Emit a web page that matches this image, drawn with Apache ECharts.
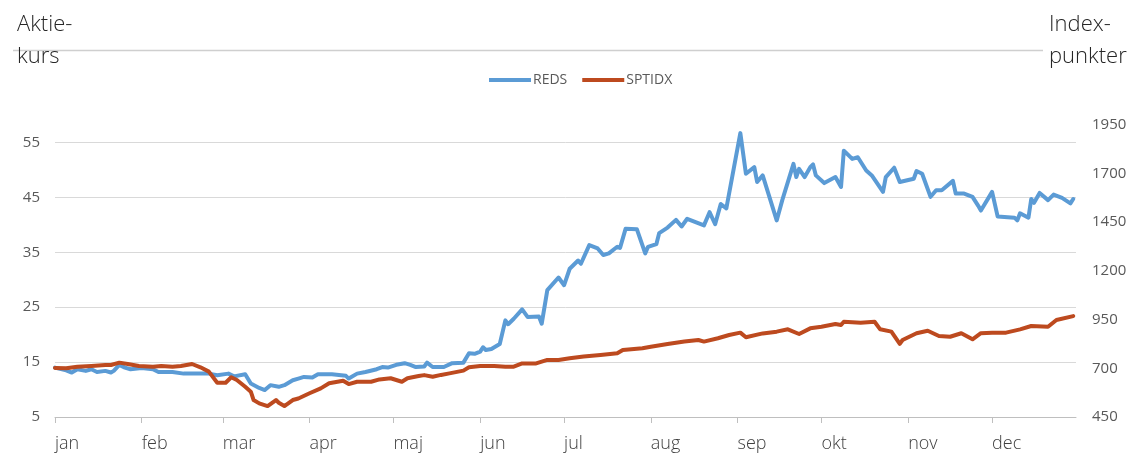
<!DOCTYPE html>
<html>
<head>
<meta charset="utf-8">
<script src="https://cdn.jsdelivr.net/npm/echarts@6/dist/echarts.min.js"></script>
<style>
html,body{margin:0;padding:0;background:#fff;}
#c{width:1135px;height:456px;}
</style>
</head>
<body>
<div id="c"></div>
<script>
// Month names and month-start day numbers (day 0 = 1 jan, leap year)
const monthNames = ['jan','feb','mar','apr','maj','jun','jul','aug','sep','okt','nov','dec'];
const monthStarts = [0,31,60,91,121,152,182,213,244,274,305,335];

// REDS share price (left axis): day number and value
const redsDays = [0,4,6,8,11,13,15,18,20,21,23,25,27,31,35,37,42,46,51,55,58,62,64,68,70,73,75,77,80,82,85,87,89,92,94,99,104,105,108,111,115,117,119,122,125,127,129,132,133,135,139,142,146,148,150,152,153,154,156,159,161,162,164,167,169,173,174,176,180,182,184,187,188,191,194,196,198,201,202,204,208,211,212,215,216,219,222,224,226,229,232,234,236,238,240,245,247,250,251,253,258,260,264,265,266,268,270,271,272,275,279,281,282,285,287,290,292,296,297,300,302,307,308,310,313,315,317,321,322,325,328,330,331,335,337,343,344,345,348,349,350,352,355,357,360,363,364];
const redsVals = [14.0,13.5,13.1,13.7,13.4,13.7,13.2,13.4,13.1,13.4,14.5,14.0,13.7,13.9,13.7,13.2,13.2,12.9,12.9,12.9,12.6,12.9,12.4,12.8,11.1,10.3,9.9,10.8,10.5,10.8,11.7,12.0,12.3,12.2,12.8,12.8,12.5,12.0,12.9,13.2,13.7,14.1,14.0,14.5,14.8,14.5,14.1,14.2,14.9,14.1,14.1,14.8,14.9,16.6,16.5,16.9,17.7,17.2,17.4,18.3,22.6,21.9,22.9,24.6,23.2,23.3,22.0,28.1,30.4,29.0,32.0,33.5,32.9,36.3,35.7,34.5,34.8,36.0,35.8,39.3,39.2,34.8,36.0,36.5,38.5,39.5,40.9,39.7,41.1,40.5,39.9,42.3,40.1,43.8,43.0,56.7,49.3,50.5,47.8,49.0,40.8,44.5,51.1,48.7,50.2,48.7,50.5,51.0,49.0,47.6,48.7,46.9,53.5,52.0,52.3,49.9,49.0,46.0,48.7,50.4,47.8,48.4,49.8,49.3,45.1,46.3,46.3,48.0,45.7,45.7,45.1,43.5,42.6,46.0,41.5,41.3,40.8,42.1,41.3,44.7,44.0,45.8,44.5,45.5,44.9,43.9,44.7];

// SPTIDX index points (right axis): day number and value
const sptDays = [0,4,8,13,18,20,23,26,30,35,38,42,45,49,52,55,58,61,63,65,68,70,71,73,76,79,80,82,85,87,91,95,98,103,105,108,113,116,120,124,126,130,132,135,138,141,146,148,152,157,161,164,167,172,176,180,184,189,195,201,203,210,213,219,225,230,232,237,241,245,247,253,258,262,266,270,274,279,281,282,288,293,295,299,302,303,308,312,316,320,324,328,331,335,340,345,349,355,358,364];
const sptVals = [702,700,708,712,717,717,729,722,712,708,712,708,712,722,705,683,626,626,654,640,605,580,537,520,506,537,523,506,537,545,572,597,623,636,619,631,631,643,649,631,649,660,665,657,666,674,688,705,712,712,708,708,725,725,743,743,751,760,768,777,794,803,811,825,837,845,837,854,871,883,859,879,888,900,876,905,913,927,922,939,934,939,900,888,825,845,880,893,866,862,880,849,880,883,883,900,917,913,948,968];

// Axis tick settings
const leftMin = 5, leftMax = 60, leftStep = 10;
const rightMin = 450, rightMax = 2000, rightStep = 250;

const chart = echarts.init(document.getElementById('c'));
const font = "'Open Sans', 'Segoe UI', sans-serif";

chart.setOption({
  animation: false,
  backgroundColor: '#ffffff',
  title: [
    {text: 'Aktie-\nkurs', left: 12, top: 4,
     textStyle: {fontFamily: font, fontSize: 22, fontWeight: 300, color: '#262626', lineHeight: 32}},
    {text: 'Index-\npunkter', left: 1044, top: 4,
     textStyle: {fontFamily: font, fontSize: 22, fontWeight: 300, color: '#262626', lineHeight: 32}}
  ],
  graphic: [
    {type: 'line', z: -1, shape: {x1: 13, y1: 50.5, x2: 1043, y2: 50.5},
     style: {stroke: '#cfcfcf', lineWidth: 1.5}}
  ],
  legend: {
    data: ['REDS', 'SPTIDX'],
    left: 484, top: 68,
    icon: 'rect', itemWidth: 42, itemHeight: 4, itemGap: 15,
    textStyle: {fontFamily: font, fontSize: 14, color: '#595959', padding: [0, 0, 0, -3]}
  },
  grid: {left: 55, right: 59, top: 115, bottom: 39},
  xAxis: {
    type: 'value', min: 0, max: 365,
    axisLine: {show: true, lineStyle: {color: '#bfbfbf', width: 1}},
    axisTick: {show: true, customValues: monthStarts, length: 6, lineStyle: {color: '#bfbfbf'}},
    axisLabel: {
      customValues: monthStarts, align: 'left', margin: 18,
      fontFamily: font, fontSize: 18, fontWeight: 300, color: '#404040',
      formatter: v => monthNames[monthStarts.indexOf(v)] || ''
    },
    splitLine: {show: false}
  },
  yAxis: [
    {type: 'value', min: leftMin, max: leftMax, interval: leftStep, position: 'left',
     axisLine: {show: false}, axisTick: {show: false},
     axisLabel: {showMaxLabel: false, margin: 15, fontFamily: font, fontSize: 15, color: '#595959'},
     splitLine: {show: true, showMaxLine: false, lineStyle: {color: '#d9d9d9', width: 1}}},
    {type: 'value', min: rightMin, max: rightMax, interval: rightStep, position: 'right',
     axisLine: {show: false}, axisTick: {show: false},
     axisLabel: {showMaxLabel: false, margin: 16, fontFamily: font, fontSize: 15, color: '#595959',
                 formatter: v => String(v)},
     splitLine: {show: false}}
  ],
  series: [
    {name: 'REDS', type: 'line', yAxisIndex: 0, showSymbol: false, symbol: 'none',
     color: '#5b9bd5',
     lineStyle: {width: 4, color: '#5b9bd5', join: 'round', cap: 'round'},
     data: redsDays.map((d, i) => [d, redsVals[i]])},
    {name: 'SPTIDX', type: 'line', yAxisIndex: 1, showSymbol: false, symbol: 'none',
     color: '#bd4a1f',
     lineStyle: {width: 4, color: '#bd4a1f', join: 'round', cap: 'round'},
     data: sptDays.map((d, i) => [d, sptVals[i]])}
  ]
});
</script>
</body>
</html>
